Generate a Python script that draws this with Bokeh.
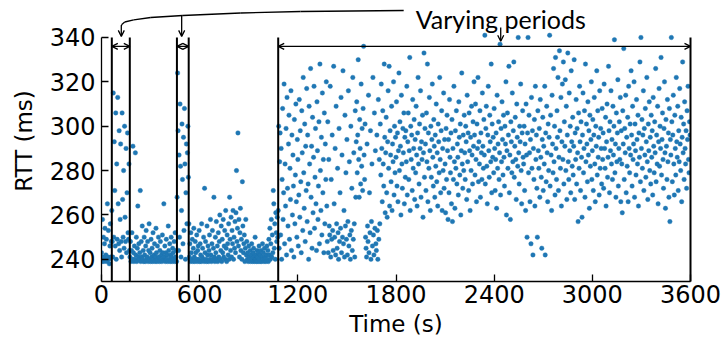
from bokeh.plotting import figure
from bokeh.models import (ColumnDataSource, Arrow, OpenHead, Label, LinearAxis,
                          FixedTicker, Range1d)
from bokeh.embed import file_html
from bokeh.resources import INLINE

# ---------------- data ----------------
SAMPLE_STEP = 3  # seconds between consecutive RTT samples

# RTT samples (ms), each list starts at the given time (s)
rtt_0000 = [243, 239, 258, 241, 250, 239, 247, 254, 240, 242, 249, 239, 265, 241, 253, 240, 238, 246, 256, 241, 248]
rtt_0063 = [262, 248, 241, 315, 250, 293, 271, 246, 306, 240, 283, 249, 313, 265, 247, 298, 244, 258, 292, 248,
            241, 306, 267, 250, 280, 245, 300, 259, 248, 290, 243, 270, 297, 252, 249, 283, 244]
rtt_0174 = [241, 248, 239, 244, 252, 240, 291, 243, 239, 246, 240, 288, 242, 250, 239, 245, 264, 241, 247, 240,
            243, 271, 239, 248, 241, 255, 240, 244, 239, 250, 242, 239, 246, 253, 240, 241, 248, 239, 244, 256,
            240, 243, 239, 249, 241, 245, 239, 252, 240, 242, 247, 239, 241, 254, 243, 239, 246, 240, 250, 241,
            239, 244, 248, 240, 242, 239, 251, 243, 240, 265, 241, 246, 239, 243, 249, 240, 242, 239, 255, 244,
            240, 247, 239, 242, 250, 241, 239, 245, 243, 240, 248, 239, 252, 241, 244, 239]
rtt_0462 = [268, 324, 298, 244, 287, 250, 310, 282, 241, 262, 301, 276, 247, 295, 253, 308, 283, 240, 270, 292,
            256, 288, 300, 277]
rtt_0534 = [256, 241, 247, 239, 252, 243, 240, 249, 239, 245, 254, 241, 239, 248, 243, 240, 251, 239, 244, 246,
            240, 253, 239, 247, 242, 239, 256, 241, 245, 240, 250, 239, 272, 243, 248, 240, 239, 255, 242, 246,
            239, 244, 251, 240, 258, 242, 239, 247, 253, 240, 245, 268, 241, 239, 250, 243, 257, 240, 246, 239,
            252, 241, 248, 260, 240, 244, 255, 239, 249, 243, 258, 241, 246, 253, 240, 262, 245, 239, 251, 247,
            242, 256, 240, 268, 249, 244, 259, 241, 253, 247, 262, 240, 250, 245, 257, 243, 261, 280, 248, 254,
            297, 246, 258, 241, 252, 263, 244, 249, 240, 275, 255, 243, 247, 251, 239, 245, 258, 242, 248, 240,
            243, 239, 246, 241, 240, 244, 239, 242, 247, 240, 239, 243, 245, 241, 239, 250, 240, 242, 239, 244,
            241, 239, 243, 246, 240, 239, 242, 244, 239, 241, 247, 240, 243, 239, 245, 241, 240, 239, 242, 246,
            240, 244, 239, 249, 242, 254, 240, 247, 258, 241, 251, 243, 271, 265, 245, 256, 240, 261, 252, 248,
            259, 250]
rtt_1080 = [262, 300, 245, 284, 297, 251, 290, 240, 276, 308, 258, 270, 319, 247, 283, 264, 299, 242, 313, 272,
            255, 292, 305, 249, 281, 267, 316, 244, 296, 260, 287, 273, 241, 303, 256, 278, 310, 266, 250, 294,
            285, 246, 269, 312, 259, 298, 275, 243, 307, 288, 253, 322, 279, 263, 301, 248, 291, 271, 317, 257,
            296, 274, 240, 309, 283, 252, 326, 268, 291, 245, 304, 261, 286, 318, 254, 277, 299, 265, 244, 311,
            289, 258, 273, 302, 247, 328, 280, 262, 295, 251, 315, 270, 285, 243, 306, 256, 292, 276, 320, 264]
rtt_1380 = [248, 302, 243, 285, 255, 251, 318, 241, 276, 249, 296, 253, 244, 327, 265, 250, 290, 242, 309, 256,
            245, 281, 252, 240, 299, 248, 270, 254, 313, 243, 287, 250, 325, 247, 262, 241, 305, 255, 279, 249,
            294, 242, 257, 316, 246, 284, 251, 240, 300, 253, 272, 244, 322, 249, 288, 256, 241, 307, 268, 293,
            311, 279, 296, 330, 285, 268, 303, 290, 274, 319, 282, 299, 271, 308, 336, 287, 276, 301, 250, 245,
            241, 292, 255, 248, 314, 243, 270, 252, 298, 240, 257, 283, 246, 322, 251, 242, 306, 254, 289, 247]
rtt_1680 = [244, 296, 253, 240, 312, 249, 285, 256, 301, 278, 319, 290, 266, 307, 283, 273, 328, 295, 261, 288,
            304, 270, 259, 293, 316, 281, 327, 264, 298, 287, 275, 309, 262, 292, 284, 320, 269, 300, 279, 295,
            286, 311, 273, 297, 266, 289, 324, 280, 302, 291, 260, 314, 283, 272, 299, 288, 306, 265, 295, 277,
            298, 284, 318, 269, 293, 306, 276, 289, 331, 262, 300, 285, 296, 271, 312, 281, 290, 303, 267, 294,
            279, 309, 287, 264, 297, 322, 283, 274, 301, 290, 316, 268, 293, 285, 305, 259, 288, 333, 277, 299]
rtt_1980 = [292, 271, 306, 284, 328, 266, 297, 281, 313, 289, 262, 300, 277, 294, 319, 286, 273, 303, 291, 268,
            296, 282, 310, 275, 288, 264, 301, 293, 279, 322, 285, 270, 298, 307, 262, 290, 280, 315, 272, 294,
            283, 261, 299, 276, 305, 289, 258, 294, 270, 312, 286, 279, 297, 265, 303, 257, 290, 276, 318, 284,
            263, 298, 281, 307, 274, 292, 286, 269, 311, 295, 278, 301, 260, 289, 324, 283, 272, 296, 280, 305,
            288, 276, 300, 293, 267, 314, 284, 297, 271, 306, 289, 262, 295, 280, 309, 287, 274, 302, 291, 320]
rtt_2280 = [296, 278, 310, 285, 266, 301, 290, 322, 275, 293, 283, 307, 268, 297, 288, 276, 315, 291, 281, 303,
            287, 341, 274, 299, 309, 282, 265, 296, 318, 289, 277, 305, 293, 284, 328, 270, 301, 286, 295, 279,
            308, 290, 271, 285, 297, 263, 314, 281, 292, 302, 276, 288, 337, 269, 299, 284, 311, 294, 278, 305,
            286, 273, 300, 292, 320, 260, 289, 306, 281, 296, 327, 270, 287, 258, 302, 293, 279, 315, 284, 298,
            329, 277, 291, 304, 285, 267, 310, 295, 282, 340, 288, 274, 300, 293, 319, 280, 265, 297, 307, 286]
rtt_2580 = [283, 300, 271, 292, 262, 310, 287, 250, 297, 340, 279, 305, 288, 266, 294, 247, 313, 281, 298, 242,
            290, 276, 303, 264, 318, 285, 296, 272, 250, 307, 289, 281, 299, 268, 312, 286, 277, 245, 294, 304,
            271, 291, 283, 318, 242, 297, 275, 309, 288, 266, 301, 280, 295, 341, 273, 305, 287, 262, 314, 292,
            279, 326, 284, 300, 269, 331, 290, 276, 307, 295, 322, 271, 286, 334, 298, 281, 313, 264, 293, 319,
            285, 329, 274, 302, 291, 321, 280, 309, 267, 296, 333, 284, 276, 315, 289, 300, 270, 325, 293, 282]
rtt_2880 = [304, 278, 291, 330, 267, 297, 285, 312, 274, 299, 288, 257, 306, 281, 318, 293, 271, 302, 286, 259,
            296, 315, 279, 290, 307, 268, 328, 284, 301, 292, 275, 311, 287, 298, 263, 305, 282, 294, 320, 276,
            289, 303, 271, 296, 313, 283, 266, 300, 291, 325, 278, 307, 286, 295, 269, 316, 281, 299, 290, 274,
            308, 285, 297, 272, 319, 290, 281, 304, 264, 293, 310, 277, 286, 327, 298, 270, 302, 289, 316, 283,
            294, 276, 309, 287, 300, 339, 279, 292, 268, 306, 284, 297, 321, 273, 290, 302, 285, 313, 266, 298]
rtt_3180 = [283, 261, 307, 292, 335, 276, 299, 288, 314, 270, 295, 282, 304, 266, 318, 290, 279, 301, 287, 325,
            296, 273, 309, 285, 292, 320, 268, 301, 289, 278, 312, 294, 283, 305, 264, 297, 286, 329, 275, 340,
            290, 303, 281, 296, 316, 271, 299, 287, 308, 277, 293, 322, 284, 267, 301, 289, 311, 280, 295, 274,
            305, 286, 298, 269, 313, 291, 279, 302, 288, 326, 275, 296, 283, 309, 265, 293, 317, 282, 300, 290,
            331, 278, 294, 306, 285, 272, 299, 320, 288, 263, 303, 291, 276, 312, 284, 297, 268, 308, 257, 294]
rtt_3480 = [287, 340, 302, 275, 296, 314, 283, 269, 305, 290, 278, 322, 293, 286, 309, 271, 298, 284, 317, 292,
            280, 304, 266, 295, 329, 288, 301, 276, 311, 290, 283, 298, 272, 307, 294, 318, 285, 279, 302, 296]

segment_starts = [0, 63, 174, 462, 534, 1080, 1380, 1680, 1980, 2280, 2580, 2880, 3180, 3480]
segment_values = [rtt_0000, rtt_0063, rtt_0174, rtt_0462, rtt_0534, rtt_1080, rtt_1380,
                  rtt_1680, rtt_1980, rtt_2280, rtt_2580, rtt_2880, rtt_3180, rtt_3480]

# boundaries of the varying periods (s)
period_bounds = [(63, 173), (461, 533), (1080, 3600)]

x_ticks = [0, 600, 1200, 1800, 2400, 3000, 3600]
y_ticks = [240, 260, 280, 300, 320, 340]
Y_MIN, Y_MAX = 230, 340

times, rtts = [], []
for start, vals in zip(segment_starts, segment_values):
    for i, v in enumerate(vals):
        times.append(start + SAMPLE_STEP * i)
        rtts.append(v)

src = ColumnDataSource(dict(t=times, rtt=rtts))

# ---------------- figure ----------------
# the frame extends above Y_MAX to leave room for the annotation (axes are bounded)
p = figure(width=723, height=347, x_range=Range1d(0, 3600), y_range=Range1d(Y_MIN, 356.68),
           output_backend="svg", toolbar_location=None,
           min_border_left=101, min_border_right=33, min_border_top=0, min_border_bottom=66)
p.outline_line_color = None
p.grid.visible = False
p.background_fill_color = "white"
p.border_fill_color = "white"

p.scatter("t", "rtt", source=src, size=4.5, fill_color="#1f77b4", line_color="#1f77b4",
          line_width=0.4)

right_axis = LinearAxis(major_label_text_font_size="0px", major_tick_in=0, major_tick_out=0,
                        minor_tick_in=0, minor_tick_out=0, axis_line_width=2,
                        bounds=(Y_MIN, Y_MAX), ticker=FixedTicker(ticks=[]))
p.add_layout(right_axis, "right")

for ax in (p.xaxis[0], p.yaxis[0]):
    ax.axis_line_width = 1.3
    ax.axis_line_color = "black"
    ax.major_tick_in = 7
    ax.major_tick_out = 0
    ax.major_tick_line_width = 1.3
    ax.minor_tick_in = 0
    ax.minor_tick_out = 0
    ax.major_label_text_font = "DejaVu Sans"
    ax.major_label_text_font_size = "24px"
    ax.major_label_text_color = "black"
    ax.axis_label_text_font = "DejaVu Sans"
    ax.axis_label_text_font_size = "23px"
    ax.axis_label_text_font_style = "normal"
    ax.axis_label_text_color = "black"

yax = p.yaxis[0]
xax = p.xaxis[0]
xax.ticker = FixedTicker(ticks=x_ticks)
yax.ticker = FixedTicker(ticks=y_ticks)
yax.bounds = (Y_MIN, Y_MAX)
xax.axis_label = "Time (s)"
yax.axis_label = "RTT (ms)"
xax.major_label_standoff = 3
xax.axis_label_standoff = 5
yax.major_label_standoff = 6
yax.axis_label_standoff = 10

# vertical period boundaries (the right one is the right spine)
bound_locs = sorted({b for pair in period_bounds for b in pair if b < 3600})
p.segment(x0=bound_locs, y0=[Y_MIN] * len(bound_locs), x1=bound_locs,
          y1=[Y_MAX] * len(bound_locs), line_color="black", line_width=2)

# double-headed arrows marking each varying period
for a, b in period_bounds:
    p.add_layout(Arrow(x_start=a, y_start=336, x_end=b, y_end=336, line_width=1.3,
                       start=OpenHead(size=6, line_width=1.3),
                       end=OpenHead(size=6, line_width=1.3)))

# annotation "Varying periods"
p.add_layout(Label(x=2440, y=348.34, text="Varying periods", text_font="Lato",
                   text_font_size="25px", text_align="center", text_baseline="alphabetic",
                   text_color="black"))
p.add_layout(Arrow(x_start=2440, y_start=344.51, x_end=2440, y_end=338.33, line_width=1.3,
                   end=OpenHead(size=6, line_width=1.3)))

curve_t = [1847, 1217, 851, 497, 301, 197, 142, 124, 121]
curve_r = [352.17, 351.72, 351.05, 349.92, 349.02, 347.98, 346.99, 345.86, 345.2]
seg = ColumnDataSource(dict(x0=curve_t[:-1], y0=curve_r[:-1], x1=curve_t[1:], y1=curve_r[1:]))
p.add_layout(Arrow(x_start="x0", y_start="y0", x_end="x1", y_end="y1", source=seg,
                   start=None, end=None, line_width=1.3, line_color="black"))
p.add_layout(Arrow(x_start=121, y_start=345.4, x_end=121, y_end=340.5, line_width=1.3,
                   end=OpenHead(size=6, line_width=1.3)))
p.add_layout(Arrow(x_start=490, y_start=349.95, x_end=490, y_end=340.5, line_width=1.3,
                   end=OpenHead(size=6, line_width=1.3)))

open("out.html", "w").write(file_html(p, INLINE))
